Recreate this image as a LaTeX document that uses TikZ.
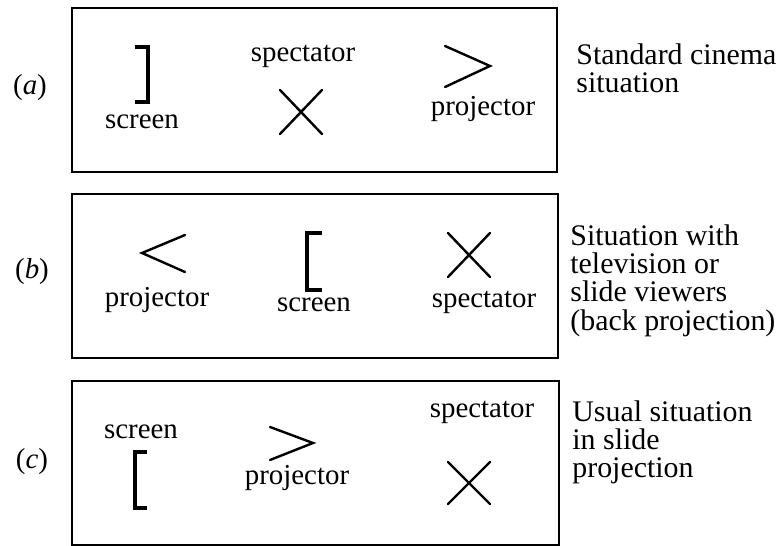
\documentclass[tikz,border=0pt]{standalone}
\usepackage{fontspec}
\setmainfont{Liberation Serif}
\begin{document}
\begin{tikzpicture}[x=0.5bp,y=-0.5bp,line cap=round,line join=miter,
  lbl/.style={font=\fontsize{14.5}{14.5}\selectfont,inner sep=0pt},
  desc/.style={font=\fontsize{15}{14.2}\selectfont,inner sep=0pt,align=left,anchor=north west},
  sym/.style={line width=1.2bp},
  brk/.style={line width=1.8bp,line cap=butt}]
  \useasboundingbox (0,0) rectangle (781,546);

  % 枠
  \draw[line width=0.6bp] (72,8) rectangle (557,172);
  \draw[line width=0.6bp] (72,194) rectangle (558,358);
  \draw[line width=0.6bp] (72,381) rectangle (559,545);

  % (a)
  \node[lbl] (labA) at (30,88) {(\textit{a})};
  \draw[brk] (135,47) -- (148,47) -- (148,102) -- (135,102);
  \node[lbl] (scrA) at (142,122) {screen};
  \node[lbl] (specA) at (303,56) {spectator};
  \draw[sym] (280,90) -- (322,134) (280,134) -- (322,90);
  \draw[sym] (445,46) -- (490,66) -- (445,87);
  \node[lbl] (projA) at (483,109) {projector};
  \node[desc] (descA) at (576,43) {Standard cinema\\situation};

  % (b)
  \node[lbl] (labB) at (32,272) {(\textit{b})};
  \draw[sym] (185,235) -- (142,253) -- (185,272);
  \node[lbl] (projB) at (157,300) {projector};
  \draw[brk] (322,233) -- (307,233) -- (307,290) -- (322,290);
  \node[lbl] (scrB) at (314,305) {screen};
  \draw[sym] (448,233) -- (490,277) (448,277) -- (490,233);
  \node[lbl] (specB) at (484,302) {spectator};
  \node[desc] (descB) at (570,224) {Situation with\\television or\\slide viewers\\(back projection)};

  % (c)
  \node[lbl] (labC) at (32,462) {(\textit{c})};
  \node[lbl] (scrC) at (141,432) {screen};
  \draw[brk] (147,452) -- (135,452) -- (135,508) -- (147,508);
  \draw[sym] (270,427) -- (313,443) -- (270,460);
  \node[lbl] (projC) at (297,478) {projector};
  \node[lbl] (specC) at (482,412) {spectator};
  \draw[sym] (448,462) -- (490,504) (448,504) -- (490,462);
  \node[desc] (descC) at (572,400) {Usual situation\\in slide\\projection};
\end{tikzpicture}
\end{document}
